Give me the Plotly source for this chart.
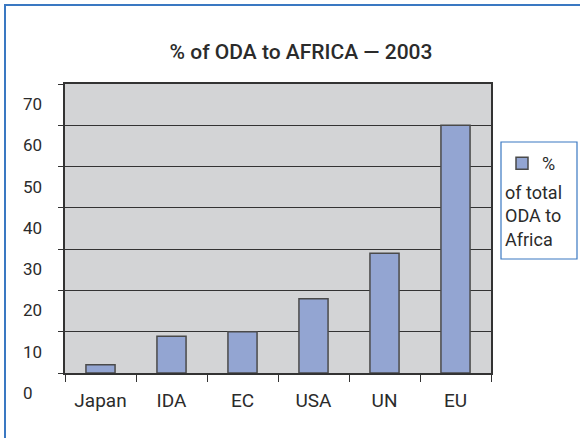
import plotly.graph_objects as go

# ---- data ----
categories = ["Japan", "IDA", "EC", "USA", "UN", "EU"]
values = [2, 8.9, 10, 18, 29, 60]
y_tick_values = [0, 10, 20, 30, 40, 50, 60, 70]
y_tick_labels = ["0", "10", "20", "30", "40", "50", "60", "70"]
title_text = "% of ODA to AFRICA \u2014 2003"
series_name = "% of total ODA to Africa"

# ---- layout geometry (pixels) ----
W, H = 580, 438
ML, MR, MT, MB = 20, 89, 84, 65
PLOT_LEFT = 65
pw = W - ML - MR
ph = H - MT - MB


def px_x(x):
    return (x - ML) / pw


def px_y(y):
    return (H - MB - y) / ph


FONT = "Roboto"
TEXT = "#2b2b2b"
BLUE = "#3a78c2"

fig = go.Figure()
fig.add_trace(go.Bar(
    x=categories, y=values,
    name=series_name.split(" ")[0],
    marker=dict(color="#93a5d2", line=dict(color="#4a4a4a", width=1.5)),
    xaxis="x", yaxis="y",
))
# invisible companion trace to host the left-aligned value labels axis
fig.add_trace(go.Scatter(x=[categories[0]], y=[None], yaxis="y2", showlegend=False,
                         hoverinfo="skip"))

rest_of_name = "<br>".join(["of total", "ODA to", "Africa"])

fig.update_layout(
    template="none",
    width=W, height=H,
    margin=dict(l=ML, r=MR, t=MT, b=MB, autoexpand=False),
    paper_bgcolor="white",
    plot_bgcolor="#d3d4d6",
    bargap=0.59,
    font=dict(family=FONT, color=TEXT),
    title=dict(text=title_text, x=301 / W, xref="container", xanchor="center",
               y=1 - 52 / H, yref="container", yanchor="middle",
               font=dict(size=21, family=FONT, color=TEXT, weight=500)),
    xaxis=dict(
        domain=[px_x(PLOT_LEFT), 1],
        type="category", automargin=False,
        showline=True, linecolor="#333333", linewidth=1.5, mirror=True,
        ticks="outside", tickson="boundaries", ticklen=7, tickcolor="#333333",
        ticklabelstandoff=9,
        tickfont=dict(size=19, family=FONT, color=TEXT),
        showgrid=False, zeroline=False,
    ),
    yaxis=dict(
        range=[0, 70], automargin=False,
        tickvals=y_tick_values,
        showticklabels=False,
        showline=True, linecolor="#333333", linewidth=1.5, mirror=True,
        ticks="outside", ticklen=5, tickcolor="#333333",
        showgrid=True, gridcolor="#333333", gridwidth=1,
        zeroline=False,
    ),
    yaxis2=dict(
        range=[0, 70], overlaying="y", side="right", anchor="free", position=0,
        automargin=False,
        tickvals=y_tick_values, ticktext=y_tick_labels,
        showgrid=False, showline=False, zeroline=False, ticks="",
        ticklabelshift=20, ticklabelstandoff=2,
        tickfont=dict(size=17, family=FONT, color=TEXT),
    ),
    showlegend=True,
    legend=dict(
        xref="container", yref="container",
        x=502 / W, y=1 - 145 / H, xanchor="left", yanchor="top",
        bgcolor="rgba(0,0,0,0)", borderwidth=0,
        font=dict(size=18, family=FONT, color=TEXT),
        itemwidth=30,
    ),
    annotations=[dict(
        text=rest_of_name, xref="paper", yref="paper",
        x=px_x(503), y=px_y(180), xanchor="left", yanchor="top",
        align="left", showarrow=False,
        font=dict(size=18, family=FONT, color=TEXT),
    )],
    shapes=[
        # outer frame
        dict(type="rect", xref="paper", yref="paper",
             x0=px_x(5), x1=px_x(W + 20), y0=px_y(H + 20), y1=px_y(5),
             line=dict(color=BLUE, width=2), fillcolor="rgba(0,0,0,0)", layer="below"),
        # legend frame
        dict(type="rect", xref="paper", yref="paper",
             x0=px_x(501), x1=px_x(577), y0=px_y(259), y1=px_y(142),
             line=dict(color=BLUE, width=1.2), fillcolor="white", layer="below"),
    ],
)

fig.write_html("out.html",
               config={"displayModeBar": False},
               post_script="document.body.style.margin='0';document.body.style.padding='0';")
